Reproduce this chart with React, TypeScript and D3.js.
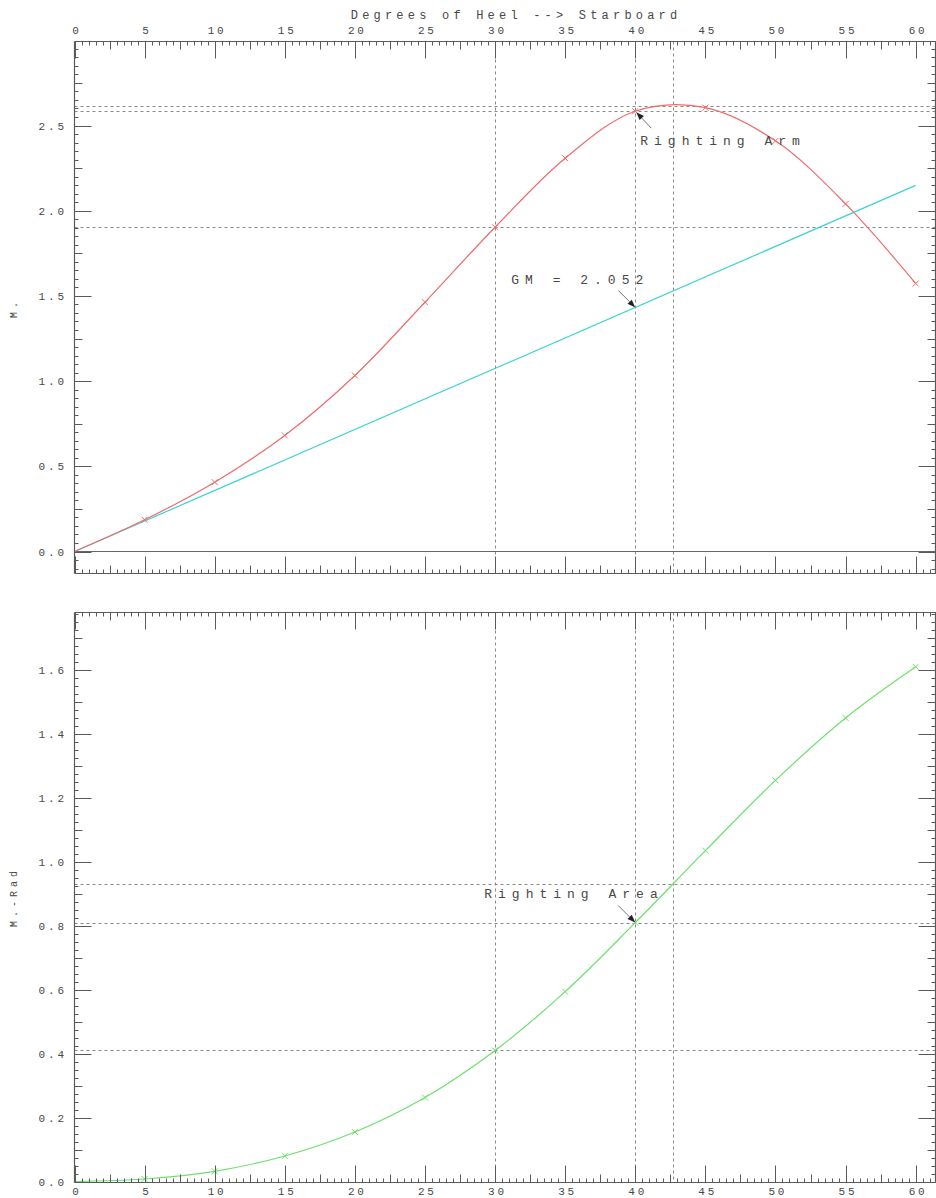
import React from "react";
import * as d3 from "d3";

// ---- Data ----
const heelDeg = [0, 5, 10, 15, 20, 25, 30, 35, 40, 45, 50, 55, 60];
const rightingArm = [0, 0.186, 0.407, 0.681, 1.033, 1.463, 1.903, 2.308, 2.584, 2.605, 2.41, 2.04, 1.573];
const rightingArea = [0, 0.008, 0.032, 0.08, 0.155, 0.263, 0.41, 0.594, 0.81, 1.035, 1.255, 1.45, 1.61];
const gmValue = 2.052;
const refAngles = [30, 40, 42.7];
const armRefValues = [1.903, 2.584, 2.617];
const areaRefValues = [0.41, 0.81, 0.931];
const xTickLabels = [0, 5, 10, 15, 20, 25, 30, 35, 40, 45, 50, 55, 60];
const armTickLabels = [0, 0.5, 1.0, 1.5, 2.0, 2.5];
const areaTickLabels = [0, 0.2, 0.4, 0.6, 0.8, 1.0, 1.2, 1.4, 1.6];
const titleText = "Degrees of Heel --> Starboard";
const armAxisLabel = "M.";
const areaAxisLabel = "M.-Rad";
const annotationAngle = 40;

const FONT = "'Liberation Mono', 'DejaVu Sans Mono', monospace";
const AXIS = "#5a5a5a";
const TEXT = "#484848";
const GRID = "#8a8a8a";
const RED = "#ef6b6b";
const CYAN = "#3ed2d2";
const GREEN = "#6ee06e";

function stepTicks(min: number, max: number, step: number) {
  const out: number[] = [];
  const a = Math.ceil(min / step - 1e-9);
  const b = Math.floor(max / step + 1e-9);
  for (let i = a; i <= b; i++) out.push(+(i * step).toFixed(6));
  return out;
}
function isMult(v: number, step: number) {
  const r = v / step;
  return Math.abs(r - Math.round(r)) < 1e-6;
}

export default function App() {
  const W = 936, H = 1198;
  const x = d3.scaleLinear().domain([0, 61.45]).range([74.5, 936]);
  const [xl, xr] = x.range();

  const yTop = d3.scaleLinear().domain([-0.129, 2.993]).range([573.5, 41.5]);
  const yBot = d3.scaleLinear().domain([-0.003, 1.78]).range([1182.5, 612.5]);

  const xMinor = stepTicks(0, 61.45, 0.5);

  const smooth = (ys: d3.ScaleLinear<number, number>) =>
    d3.line<number>().x((_, i) => x(heelDeg[i])).y((d) => ys(d)).curve(d3.curveCatmullRom.alpha(0.5));

  const tickLen = (v: number, major: number, mid: number) =>
    isMult(v, major) ? 17 : isMult(v, mid) ? 8 : 4;

  const hAxis = (yPos: number, dir: 1 | -1, key: string) => (
    <g key={key}>
      <line x1={xl} x2={xr} y1={yPos} y2={yPos} stroke={AXIS} strokeWidth={1.2} />
      {xMinor.map((v) => (
        <line key={v} x1={Math.round(x(v)) + 0.5} x2={Math.round(x(v)) + 0.5} y1={yPos} y2={yPos + dir * tickLen(v, 5, 2.5)} stroke={AXIS} strokeWidth={1} />
      ))}
    </g>
  );

  const vAxis = (
    xPos: number,
    dir: 1 | -1,
    ys: d3.ScaleLinear<number, number>,
    minor: number,
    mid: number,
    major: number,
    key: string
  ) => {
    const [d0, d1] = ys.domain();
    const [r0, r1] = ys.range();
    return (
      <g key={key}>
        <line x1={xPos} x2={xPos} y1={r0} y2={r1} stroke={AXIS} strokeWidth={1.2} />
        {stepTicks(d0, d1, minor).map((v) => (
          <line key={v} x1={xPos} x2={xPos + dir * tickLen(v, major, mid)} y1={Math.round(ys(v)) + 0.5} y2={Math.round(ys(v)) + 0.5} stroke={AXIS} strokeWidth={1} />
        ))}
      </g>
    );
  };

  const marker = (cx: number, cy: number, color: string, k: string) => (
    <path key={k} d={`M${cx - 3},${cy - 3}L${cx + 3},${cy + 3}M${cx - 3},${cy + 3}L${cx + 3},${cy - 3}`} stroke={color} strokeWidth={1} />
  );

  const arrow = (tx: number, ty: number, dx: number, dy: number, k: string) => {
    const sx = tx + dx, sy = ty + dy;
    const ang = Math.atan2(ty - sy, tx - sx);
    const L = 8, hw = 3;
    const bx = tx - L * Math.cos(ang), by = ty - L * Math.sin(ang);
    const px = -Math.sin(ang) * hw, py = Math.cos(ang) * hw;
    return (
      <g key={k}>
        <line x1={sx} y1={sy} x2={bx} y2={by} stroke="#777" strokeWidth={1} />
        <path d={`M${tx},${ty}L${bx + px},${by + py}L${bx - px},${by - py}Z`} fill="#222" />
      </g>
    );
  };

  const ls = 2.8;
  const gmAt = (deg: number) => (gmValue * deg * Math.PI) / 180;
  const iAnn = heelDeg.indexOf(annotationAngle);

  const topRange = yTop.range();
  const botRange = yBot.range();

  return (
    <svg width={W} height={H} style={{ position: "absolute", left: 0, top: 0, background: "#fff" }}>
      <text x={514 + 2.1} y={19} textAnchor="middle" fontFamily={FONT} fontSize={12} letterSpacing={4.2} fill={TEXT}>
        {titleText}
      </text>

      {xTickLabels.map((v) => (
        <text key={"tx" + v} x={x(v) + ls / 2 + 1} y={34} textAnchor="middle" fontFamily={FONT} fontSize={11} letterSpacing={ls} fill={TEXT}>
          {v}
        </text>
      ))}
      {xTickLabels.map((v) => (
        <text key={"bx" + v} x={x(v) + ls / 2 + 1} y={1195} textAnchor="middle" fontFamily={FONT} fontSize={11} letterSpacing={ls} fill={TEXT}>
          {v}
        </text>
      ))}

      {armTickLabels.map((v) => (
        <text key={"ay" + v} x={64 + ls} y={yTop(v) + 4} textAnchor="end" fontFamily={FONT} fontSize={11} letterSpacing={ls} fill={TEXT}>
          {d3.format(".1f")(v)}
        </text>
      ))}
      {areaTickLabels.map((v) => (
        <text key={"by" + v} x={64 + ls} y={yBot(v) + 4} textAnchor="end" fontFamily={FONT} fontSize={11} letterSpacing={ls} fill={TEXT}>
          {d3.format(".1f")(v)}
        </text>
      ))}

      <text transform={`translate(17,${308}) rotate(-90)`} textAnchor="middle" fontFamily={FONT} fontSize={10} letterSpacing={4} fill={TEXT}>
        {armAxisLabel}
      </text>
      <text transform={`translate(17,${897}) rotate(-90)`} textAnchor="middle" fontFamily={FONT} fontSize={10} letterSpacing={4} fill={TEXT}>
        {areaAxisLabel}
      </text>

      {/* ---- Top panel ---- */}
      {refAngles.map((a) => (
        <line key={"tv" + a} x1={Math.round(x(a)) + 0.5} x2={Math.round(x(a)) + 0.5} y1={topRange[1]} y2={topRange[0]} stroke={GRID} strokeDasharray="3,3" strokeWidth={1} />
      ))}
      {armRefValues.map((v) => (
        <line key={"th" + v} x1={xl} x2={xr} y1={Math.round(yTop(v)) + 0.5} y2={Math.round(yTop(v)) + 0.5} stroke={GRID} strokeDasharray="3,3" strokeWidth={1} />
      ))}
      <line x1={xl} x2={xr} y1={yTop(0)} y2={yTop(0)} stroke="#666" strokeWidth={1.2} />
      <line x1={x(0)} y1={yTop(0)} x2={x(60)} y2={yTop(gmAt(60))} stroke={CYAN} strokeWidth={1.2} />
      <path d={smooth(yTop)(rightingArm) || ""} fill="none" stroke={RED} strokeWidth={1.2} />
      {rightingArm.map((v, i) => (i > 0 ? marker(x(heelDeg[i]), yTop(v), RED, "rm" + i) : null))}

      {hAxis(topRange[1], 1, "tta")}
      {hAxis(topRange[0], -1, "tba")}
      {vAxis(xl, 1, yTop, 0.05, 0.25, 0.5, "tla")}
      {vAxis(xr - 0.5, -1, yTop, 0.05, 0.25, 0.5, "tra")}

      {arrow(x(annotationAngle) + 1, yTop(rightingArm[iAnn]) + 1, 15, 16, "a1")}
      <text x={x(annotationAngle) + 5} y={yTop(rightingArm[iAnn]) + 34} fontFamily={FONT} fontSize={13} letterSpacing={6} fill={TEXT}>
        Righting Arm
      </text>
      {arrow(x(annotationAngle), yTop(gmAt(annotationAngle)), -17, -17, "a2")}
      <text x={x(annotationAngle) - 124} y={yTop(gmAt(annotationAngle)) - 23} fontFamily={FONT} fontSize={13} letterSpacing={6} fill={TEXT}>
        {"GM = " + gmValue.toFixed(3)}
      </text>

      {/* ---- Bottom panel ---- */}
      {refAngles.map((a) => (
        <line key={"bv" + a} x1={Math.round(x(a)) + 0.5} x2={Math.round(x(a)) + 0.5} y1={botRange[1]} y2={botRange[0]} stroke={GRID} strokeDasharray="3,3" strokeWidth={1} />
      ))}
      {areaRefValues.map((v) => (
        <line key={"bh" + v} x1={xl} x2={xr} y1={Math.round(yBot(v)) + 0.5} y2={Math.round(yBot(v)) + 0.5} stroke={GRID} strokeDasharray="3,3" strokeWidth={1} />
      ))}
      <path d={smooth(yBot)(rightingArea) || ""} fill="none" stroke={GREEN} strokeWidth={1.2} />
      {rightingArea.map((v, i) => (i > 0 ? marker(x(heelDeg[i]), yBot(v), GREEN, "gm" + i) : null))}

      {hAxis(botRange[1], 1, "bta")}
      {hAxis(botRange[0], -1, "bba")}
      {vAxis(xl, 1, yBot, 0.025, 0.1, 0.2, "bla")}
      {vAxis(xr - 0.5, -1, yBot, 0.025, 0.1, 0.2, "bra")}

      {arrow(x(annotationAngle), yBot(rightingArea[iAnn]), -17, -17, "a3")}
      <text x={x(annotationAngle) - 151} y={yBot(rightingArea[iAnn]) - 25} fontFamily={FONT} fontSize={13} letterSpacing={6} fill={TEXT}>
        Righting Area
      </text>
    </svg>
  );
}
